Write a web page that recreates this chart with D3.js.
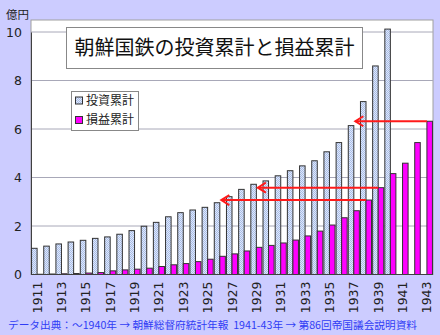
<!DOCTYPE html>
<html><head><meta charset="utf-8">
<script src="https://cdn.jsdelivr.net/npm/d3@7"></script>
<style>body{margin:0;background:#ccccff;} svg{display:block;}</style>
</head><body><svg id="c" width="440" height="335"></svg>
<script>
const years = d3.range(1911, 1944);
const investment = [1.08,1.17,1.26,1.34,1.41,1.49,1.55,1.66,1.81,1.99,2.15,2.38,2.55,2.66,2.77,2.96,3.21,3.51,3.72,3.86,4.07,4.28,4.48,4.69,5.06,5.44,6.14,7.13,8.60,10.12,null,null,null];
const profit = [0.01,0.02,0.03,0.04,0.06,0.08,0.15,0.19,0.22,0.26,0.33,0.40,0.45,0.53,0.63,0.75,0.85,0.97,1.12,1.20,1.30,1.42,1.59,1.79,2.04,2.34,2.63,3.07,3.58,4.16,4.59,5.44,6.32];
const yTicks = [0,2,4,6,8,10];
const xTickYears = years.filter(y => (y - 1911) % 2 === 0);
// arrows: from profit of year "from" to investment bar of year "to"
const arrows = [{from:1943, to:1937},{from:1939, to:1929},{from:1938, to:1926}];
const titleText = "朝鮮国鉄の投資累計と損益累計";
const legendLabels = ["投資累計","損益累計"];
const unitLabel = "億円";
const sourceText = "データ出典：～1940年 → 朝鮮総督府統計年報  1941-43年 → 第86回帝国議会説明資料";

const svg = d3.select("#c");
const L = 31, R = 433, T = 20, B = 274.5;
const jp = "'Noto Sans CJK JP', sans-serif";
const num = "'DejaVu Sans', sans-serif";

const defs = svg.append("defs");
const pat = defs.append("pattern").attr("id","dots").attr("width",2).attr("height",2).attr("patternUnits","userSpaceOnUse");
pat.append("rect").attr("width",2).attr("height",2).attr("fill","#dfe8fb");
pat.append("rect").attr("width",1).attr("height",1).attr("fill","#a9bde6");
pat.append("rect").attr("x",1).attr("y",1).attr("width",1).attr("height",1).attr("fill","#a9bde6");

const x = d3.scaleBand().domain(years).range([L, R]).padding(0);
const sub = d3.scaleBand().domain(["inv","pro"]).range([0, x.bandwidth()]).paddingInner(0).paddingOuter(0.1);
const y = d3.scaleLinear().domain([0,10]).range([B, B - 10*24.25]);

svg.append("rect").attr("x",L).attr("y",T).attr("width",R-L).attr("height",B-T).attr("fill","#fff").attr("stroke","#a0a0a0");

svg.append("g").selectAll("line").data(yTicks.filter(d=>d>0)).join("line")
  .attr("x1",L).attr("x2",R).attr("y1",d=>y(d)).attr("y2",d=>y(d)).attr("stroke","#a8a8b8").attr("stroke-width",1);

const yAxis = svg.append("g").attr("transform",`translate(${L},0)`).call(d3.axisLeft(y).tickValues(yTicks).tickSize(0).tickPadding(9).tickFormat(d3.format("d")));
yAxis.select(".domain").attr("stroke","#404040");
yAxis.selectAll("text").attr("font-family",num).attr("font-size",12.5).attr("fill","#222");

svg.append("text").attr("x",6).attr("y",19).attr("font-family",jp).attr("font-size",11.5).attr("fill","#222").text(unitLabel);

const bars = svg.append("g");
bars.selectAll("rect.inv").data(years.map((yr,i)=>({yr,v:investment[i]})).filter(d=>d.v!=null)).join("rect")
  .attr("class","inv").attr("x",d=>x(d.yr)+sub("inv")).attr("width",sub.bandwidth())
  .attr("y",d=>y(d.v)).attr("height",d=>y(0)-y(d.v)).attr("fill","url(#dots)").attr("stroke","#333").attr("stroke-width",1);
bars.selectAll("rect.pro").data(years.map((yr,i)=>({yr,v:profit[i]}))).join("rect")
  .attr("class","pro").attr("x",d=>x(d.yr)+sub("pro")).attr("width",sub.bandwidth())
  .attr("y",d=>y(d.v)).attr("height",d=>y(0)-y(d.v)).attr("fill","#ff00ff").attr("stroke","#333").attr("stroke-width",1);

svg.append("line").attr("x1",L).attr("x2",R).attr("y1",B).attr("y2",B).attr("stroke","#404040");

// x tick labels (rotated via a single rotated group)
svg.append("g").attr("transform","rotate(-90)").selectAll("text").data(xTickYears).join("text")
  .attr("x",-(B+7)).attr("y",d=>x(d)+x.bandwidth()/2)
  .attr("text-anchor","end").attr("dy","0.36em")
  .attr("font-family",num).attr("font-size",12.5).attr("fill","#222").text(d=>d);

// arrows
const ag = svg.append("g").attr("stroke","#ff1a1a").attr("stroke-width",2).attr("fill","none");
const idx = yr => years.indexOf(yr);
arrows.forEach(a => {
  const yy = y(profit[idx(a.from)]);
  const x1 = x(a.from) + sub("pro");
  const x2 = x(a.to) + sub("inv") + sub.bandwidth() + 1.5;
  ag.append("line").attr("x1",x1).attr("x2",x2).attr("y1",yy).attr("y2",yy);
  ag.append("path").attr("d",`M${x2+8},${yy-5} L${x2},${yy} L${x2+8},${yy+5}`);
});

// title
svg.append("rect").attr("x",66.5).attr("y",27.5).attr("width",296).attr("height",41).attr("fill","#fff").attr("stroke","#888");
svg.append("text").attr("x",214.5).attr("y",48).attr("dy","0.36em").attr("text-anchor","middle").attr("font-family",jp).attr("font-size",20).attr("fill","#111").text(titleText);

// legend
const lg = svg.append("g");
lg.append("rect").attr("x",71.5).attr("y",91.5).attr("width",67).attr("height",39).attr("fill","#fff").attr("stroke","#888");
const fills = ["url(#dots)","#ff00ff"];
legendLabels.forEach((t,i)=>{
  const cy = 100.5 + i*19.5;
  lg.append("rect").attr("x",75.5).attr("y",cy-3.5).attr("width",7).attr("height",7).attr("fill",fills[i]).attr("stroke","#333");
  lg.append("text").attr("x",86).attr("y",cy).attr("dy","0.36em").attr("font-family",jp).attr("font-size",12).attr("fill","#222").text(t);
});

svg.append("text").attr("x",8).attr("y",325).attr("dy","0.36em").style("white-space","pre")
  .attr("font-family",jp).attr("font-size",10.5).attr("fill","#2f3cf5")
  .attr("textLength",409).attr("lengthAdjust","spacingAndGlyphs").text(sourceText);
</script></body></html>
